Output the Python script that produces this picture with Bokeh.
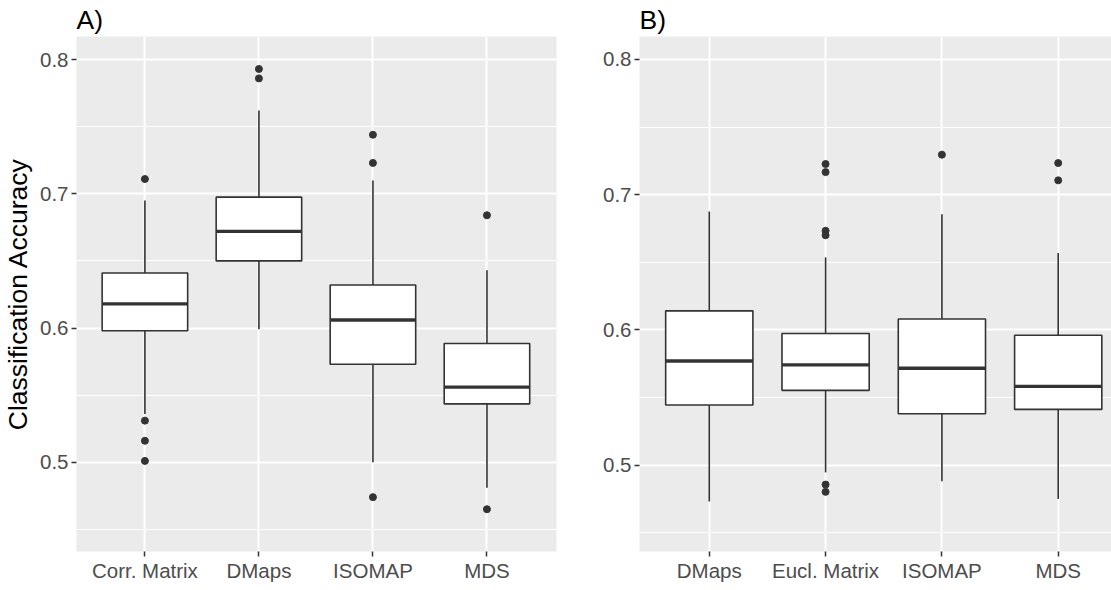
from bokeh.plotting import figure
from bokeh.layouts import row
from bokeh.models import Range1d, FixedTicker
from bokeh.embed import file_html
from bokeh.resources import INLINE

# ---------------- data ----------------
cats_a = ["Corr. Matrix", "DMaps", "ISOMAP", "MDS"]
lo_a = [0.536, 0.599, 0.500, 0.481]
q1_a = [0.598, 0.650, 0.573, 0.5435]
med_a = [0.618, 0.672, 0.606, 0.556]
q3_a = [0.641, 0.6975, 0.632, 0.5885]
hi_a = [0.695, 0.762, 0.710, 0.643]
out_a = [[0.711, 0.531, 0.516, 0.501], [0.793, 0.786], [0.744, 0.723, 0.474], [0.684, 0.465]]

cats_b = ["DMaps", "Eucl. Matrix", "ISOMAP", "MDS"]
lo_b = [0.473, 0.4946, 0.488, 0.475]
q1_b = [0.5444, 0.5553, 0.538, 0.5412]
med_b = [0.577, 0.5741, 0.5716, 0.5582]
q3_b = [0.6141, 0.5973, 0.6081, 0.596]
hi_b = [0.6876, 0.6536, 0.6856, 0.6568]
out_b = [[], [0.7227, 0.7167, 0.6733, 0.6700, 0.4856, 0.4802], [0.7296], [0.7234, 0.7106]]

y_major = [0.5, 0.6, 0.7, 0.8]
y_minor = [0.45, 0.55, 0.65, 0.75]

FONT = "Liberation Sans"
DARK = "#333333"


def make_panel(cats, lo, q1, med, q3, hi, outs, tag, ylabel, x_end, y0, y1,
               w, h, ml, mr, mt, mb):
    xs = list(range(1, len(cats) + 1))
    p = figure(width=w, height=h, x_range=Range1d(0.4, x_end),
               y_range=Range1d(y0, y1), output_backend="svg",
               toolbar_location=None, min_border_left=ml, min_border_right=mr,
               min_border_top=mt, min_border_bottom=mb)
    p.background_fill_color = "#EBEBEB"
    p.border_fill_color = "white"
    p.outline_line_color = None

    # title / tag
    p.title.text = tag
    p.title.text_font = FONT
    p.title.text_font_size = "26.5px"
    p.title.text_font_style = "normal"
    p.title.text_color = "black"
    p.title.align = "left"
    p.title.standoff = 4

    # axes
    p.xaxis.ticker = FixedTicker(ticks=xs)
    p.xaxis.major_label_overrides = {x: c for x, c in zip(xs, cats)}
    p.yaxis.ticker = FixedTicker(ticks=y_major)
    for ax in (p.xaxis[0], p.yaxis[0]):
        ax.axis_line_color = None
        ax.major_tick_line_color = DARK
        ax.major_tick_line_width = 1.5
        ax.major_tick_out = 5
        ax.major_tick_in = 0
        ax.minor_tick_line_color = None
        ax.major_label_text_font = FONT
        ax.major_label_text_font_size = "20.5px"
        ax.major_label_text_color = "#4D4D4D"
    p.xaxis.major_label_standoff = 2
    p.yaxis.major_label_standoff = 3
    if ylabel:
        p.yaxis.axis_label = ylabel
        p.yaxis.axis_label_text_font = FONT
        p.yaxis.axis_label_text_font_size = "26.5px"
        p.yaxis.axis_label_text_font_style = "normal"
        p.yaxis.axis_label_text_color = "black"
        p.yaxis.axis_label_standoff = 4

    # grids
    p.xgrid.ticker = FixedTicker(ticks=xs)
    p.xgrid.grid_line_color = "white"
    p.xgrid.grid_line_width = 2
    p.ygrid.ticker = FixedTicker(ticks=y_major, minor_ticks=y_minor)
    p.ygrid.grid_line_color = "white"
    p.ygrid.grid_line_width = 2
    p.ygrid.minor_grid_line_color = "white"
    p.ygrid.minor_grid_line_width = 1

    bw = 0.75
    # whiskers
    p.segment(x0=xs, y0=q3, x1=xs, y1=hi, line_color=DARK, line_width=1.6)
    p.segment(x0=xs, y0=lo, x1=xs, y1=q1, line_color=DARK, line_width=1.6)
    # boxes
    p.vbar(x=xs, width=bw, bottom=q1, top=q3, fill_color="white",
           line_color=DARK, line_width=1.6)
    # medians
    p.segment(x0=[x - bw / 2 for x in xs], y0=med,
              x1=[x + bw / 2 for x in xs], y1=med,
              line_color=DARK, line_width=3.4)
    # outliers
    ox, oy = [], []
    for x, vals in zip(xs, outs):
        for v in vals:
            ox.append(x)
            oy.append(v)
    p.scatter(x=ox, y=oy, size=7, fill_color=DARK, line_color=DARK)
    return p


pa = make_panel(cats_a, lo_a, q1_a, med_a, q3_a, hi_a, out_a, "A)",
                "Classification Accuracy", 4.61, 0.4335, 0.8172,
                w=562, h=584, ml=71, mr=6, mt=32, mb=29)
pb = make_panel(cats_b, lo_b, q1_b, med_b, q3_b, hi_b, out_b, "B)",
                None, 4.484, 0.4361, 0.8170,
                w=552, h=584, ml=77, mr=0, mt=32, mb=29)

layout = row(pa, pb)
open("out.html", "w").write(file_html(layout, INLINE))
